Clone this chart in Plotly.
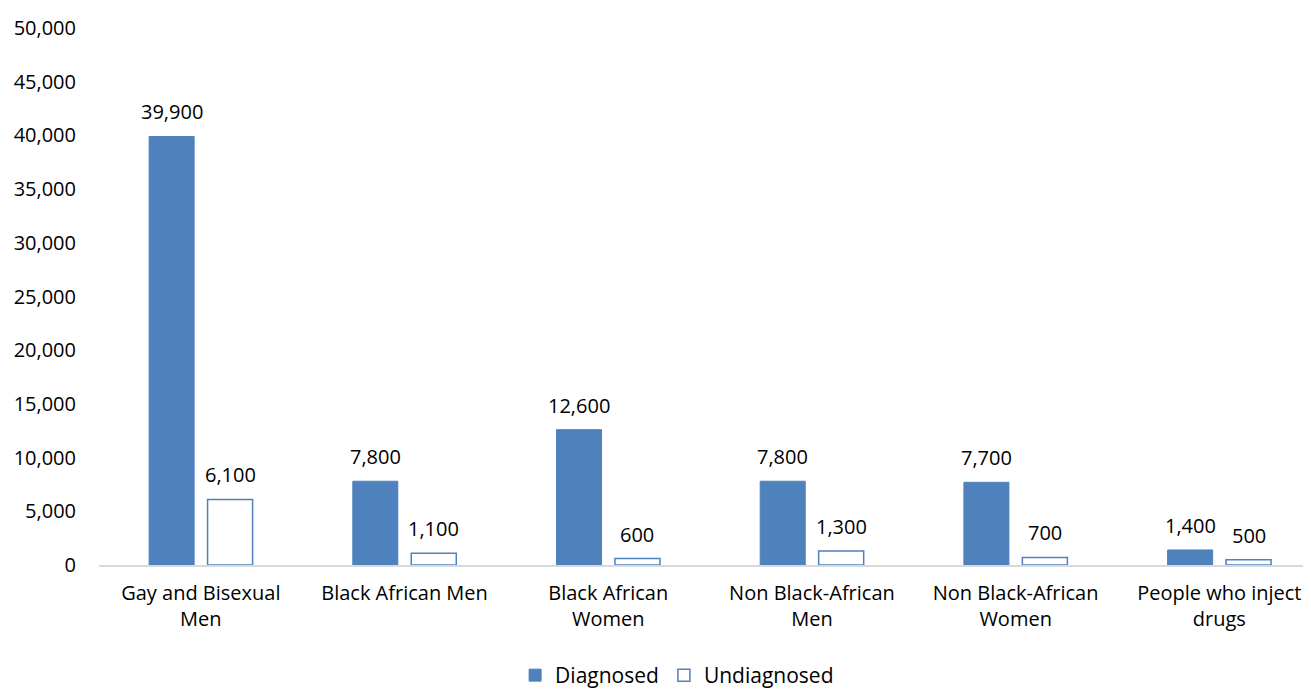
import plotly.graph_objects as go

categories = ["Gay and Bisexual<br>Men", "Black African Men", "Black African<br>Women",
              "Non Black-African<br>Men", "Non Black-African<br>Women", "People who inject<br>drugs"]
diagnosed = [39900, 7800, 12600, 7800, 7700, 1400]
undiagnosed = [6100, 1100, 600, 1300, 700, 500]

blue = "#4F81BD"
font = "'Open Sans', Lato, sans-serif"
fs = 20

fig = go.Figure()
fig.add_trace(go.Bar(
    x=categories, y=diagnosed, name="Diagnosed",
    marker=dict(color=blue, line=dict(color=blue, width=1)),
))
fig.add_trace(go.Bar(
    x=categories, y=undiagnosed, name="Undiagnosed",
    marker=dict(color="#FFFFFF", line=dict(color=blue, width=1.5)),
))

bargap = 0.426
cat_px = 1212 / 5.95
offset = cat_px * (1 - bargap) / 4
for series, sign in ((diagnosed, -1), (undiagnosed, 1)):
    for cat, v in zip(categories, series):
        fig.add_annotation(x=cat, y=v, text=f"{v:,}", showarrow=False,
                           xshift=sign * offset, yshift=9, yanchor="bottom",
                           font=dict(size=fs, family=font, color="#000000"))

fig.update_layout(
    width=1303, height=688,
    margin=dict(l=91, r=0, t=20, b=131, autoexpand=False),
    paper_bgcolor="white", plot_bgcolor="white",
    barmode="group", bargap=bargap, bargroupgap=0.23,
    font=dict(family=font, size=fs, color="#000000"),
    showlegend=True,
    legend=dict(orientation="h", x=0.477, xanchor="center", yref="container", y=0.0,
                yanchor="bottom", font=dict(size=21, family=font),
                traceorder="normal", itemwidth=30, tracegroupgap=0),
    xaxis=dict(range=[-0.5, 5.45], showgrid=False, showline=True, linecolor="#D9D9D9",
               linewidth=1.5, ticks="", tickfont=dict(size=fs, family=font),
               ticklabelstandoff=9),
    yaxis=dict(range=[0, 50000], dtick=5000, tickformat=",", showgrid=False,
               showline=False, zeroline=False, ticks="",
               tickfont=dict(size=fs, family=font), ticklabelstandoff=22),
)

fig.write_html("out.html")
